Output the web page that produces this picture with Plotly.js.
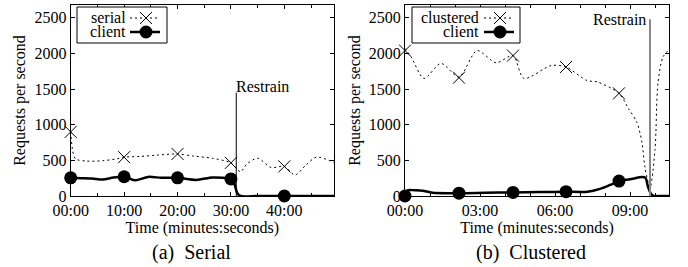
<!DOCTYPE html>
<html><head><meta charset="utf-8">
<script src="https://cdn.plot.ly/plotly-3.0.1.min.js"></script>
<style>html,body{margin:0;padding:0;background:#fff}#chart{width:688px;height:267px}</style>
</head><body><div id="chart"></div><script>
// ---- Panel (a) Serial : time in minutes ----
const serialT = [0, 0.4, 0.9, 3, 6, 8.5, 10, 13, 16.5, 20, 23, 26.5, 30, 31, 31.8, 33, 35, 37.5, 40, 42, 44, 46, 49.3];
const serialV = [900, 620, 520, 490, 495, 520, 545, 555, 575, 590, 560, 530, 465, 390, 340, 450, 530, 400, 415, 295, 430, 545, 470];
const serialMarkT = [0, 10, 20, 30, 40];
const serialMarkV = [900, 545, 590, 465, 415];
const clientAT = [0, 2, 4, 6, 8, 10, 12, 14.5, 17, 20, 23.5, 26.5, 28.5, 30, 30.6, 31.2, 31.8, 35, 40, 45, 49.3];
const clientAV = [255, 250, 245, 230, 260, 270, 220, 268, 255, 255, 225, 260, 255, 240, 180, 40, 0, 0, 0, 0, 0];
const clientAMarkT = [0, 10, 20, 30, 40];
const clientAMarkV = [255, 270, 255, 240, 0];

// ---- Panel (b) Clustered : time in minutes ----
const clusT = [0, 0.25, 0.76, 1.44, 2.16, 2.88, 3.64, 4.32, 4.76, 5.84, 6.44, 7.28, 7.7, 8.56, 8.95, 9.28, 9.48, 9.6, 9.8, 10.0, 10.12, 10.32, 10.56];
const clusV = [2070, 1950, 1650, 1860, 1670, 2040, 1870, 1970, 1650, 1830, 1810, 1620, 1600, 1440, 1220, 1030, 745, 400, 120, 650, 1590, 1950, 2050];
const clusMarkT = [0, 2.16, 4.32, 6.44, 8.56];
const clusMarkV = [2040, 1660, 1970, 1810, 1440];
const clientBT = [0, 0.1, 0.4, 0.7, 1.1, 2.16, 3.2, 4.32, 5.4, 6.44, 7.3, 7.8, 8.2, 8.56, 9.0, 9.5, 9.62, 9.72, 9.85, 9.95, 10.2, 10.56];
const clientBV = [0, 80, 80, 75, 45, 40, 45, 50, 55, 60, 60, 100, 155, 210, 235, 265, 255, 130, 25, 0, 0, 0];
const clientBMarkT = [0, 2.16, 4.32, 6.44, 8.56];
const clientBMarkV = [0, 40, 50, 60, 210];

// ---- ticks / labels ----
const xTickValsA = [0, 10, 20, 30, 40];
const xTickTextA = ['00:00', '10:00', '20:00', '30:00', '40:00'];
const xTickValsB = [0, 3, 6, 9];
const xTickTextB = ['00:00', '03:00', '06:00', '09:00'];
const yTickVals = [0, 500, 1000, 1500, 2000, 2500];
const restrainT = [31.0, 9.8];
const restrainTop = [1450, 2480];
const seriesNames = [['serial', 'client'], ['clustered', 'client']];
const captions = ['(a)  Serial', '(b)  Clustered'];

const FONT = '"Liberation Serif", "Times New Roman", "DejaVu Serif", serif';
const W = 688, H = 267;
const px = p => p / W, py = p => 1 - p / H;

function lineTrace(x, y, xa, ya, dotted) {
  return {x, y, xaxis: xa, yaxis: ya, type: 'scatter', mode: 'lines', hoverinfo: 'skip',
    line: dotted ? {color: '#000', width: 1, dash: '2px,3px', shape: 'spline', smoothing: 0.8}
                 : {color: '#000', width: 2.5, shape: 'spline', smoothing: 0.8}};
}
function markTrace(x, y, xa, ya, cross) {
  return {x, y, xaxis: xa, yaxis: ya, type: 'scatter', mode: 'markers', hoverinfo: 'skip', cliponaxis: false,
    marker: cross ? {symbol: 'x-thin-open', size: 12, color: '#000', line: {color: '#000', width: 1}}
                  : {symbol: 'circle', size: 13, color: '#000'}};
}

const data = [
  lineTrace(serialT, serialV, 'x', 'y', true),
  lineTrace(clientAT, clientAV, 'x', 'y', false),
  markTrace(serialMarkT, serialMarkV, 'x', 'y', true),
  markTrace(clientAMarkT, clientAMarkV, 'x', 'y', false),
  lineTrace(clusT, clusV, 'x2', 'y2', true),
  lineTrace(clientBT, clientBV, 'x2', 'y2', false),
  markTrace(clusMarkT, clusMarkV, 'x2', 'y2', true),
  markTrace(clientBMarkT, clientBMarkV, 'x2', 'y2', false),
];

function xaxis(domain, range, vals, text, minorD, anchor) {
  return {domain, range, anchor, tickmode: 'array', tickvals: vals, ticktext: text,
    ticks: 'inside', ticklen: 4, tickwidth: 1, tickcolor: '#000',
    minor: {tickmode: 'linear', tick0: 0, dtick: minorD, ticks: 'inside', ticklen: 3, tickcolor: '#000', showgrid: false},
    showline: true, linecolor: '#000', linewidth: 1, mirror: 'allticks', showgrid: false, zeroline: false,
    tickfont: {family: FONT, size: 16, color: '#000'},
    title: {text: 'Time (minutes:seconds)', font: {family: FONT, size: 16, color: '#000'}, standoff: 0}};
}
function yaxis(anchor) {
  return {domain: [py(196), py(5)], range: [0, 2680], anchor, tickmode: 'array', tickvals: yTickVals,
    ticks: 'inside', ticklen: 4, tickwidth: 1, tickcolor: '#000',
    showline: true, linecolor: '#000', linewidth: 1, mirror: 'allticks', showgrid: false, zeroline: false,
    tickfont: {family: FONT, size: 16, color: '#000'},
    title: {text: 'Requests per second', font: {family: FONT, size: 16, color: '#000'}, standoff: 4}};
}

const shapes = [], annotations = [];
// Restrain markers
shapes.push({type: 'line', xref: 'x', yref: 'y', x0: restrainT[0], x1: restrainT[0], y0: 0, y1: restrainTop[0], line: {color: '#000', width: 1}});
annotations.push({xref: 'x', yref: 'y', x: restrainT[0], y: restrainTop[0], xanchor: 'left', yanchor: 'middle', yshift: 6, xshift: -2,
  text: 'Restrain', showarrow: false, font: {family: FONT, size: 16, color: '#000'}});
shapes.push({type: 'line', xref: 'x2', yref: 'y2', x0: restrainT[1], x1: restrainT[1], y0: 0, y1: restrainTop[1], line: {color: '#888', width: 2}});
annotations.push({xref: 'x2', yref: 'y2', x: restrainT[1], y: restrainTop[1], xanchor: 'right', yanchor: 'middle', xshift: -2, yshift: 0,
  text: 'Restrain', showarrow: false, font: {family: FONT, size: 16, color: '#000'}});

// Legends (gnuplot style: label then sample)
function legend(box, textRight, s0, s1, mx, names) {
  shapes.push({type: 'rect', xref: 'paper', yref: 'paper', x0: px(box[0]), x1: px(box[2]), y0: py(box[3]), y1: py(box[1]),
    line: {color: '#000', width: 1}, fillcolor: '#fff', layer: 'above'});
  const rows = [18, 32];
  rows.forEach((ry, i) => {
    annotations.push({xref: 'paper', yref: 'paper', x: px(textRight), y: py(ry), xanchor: 'right', yanchor: 'middle',
      height: 13, borderpad: 0, valign: 'middle',
      text: names[i], showarrow: false, font: {family: FONT, size: 16, color: '#000'}});
  });
  shapes.push({type: 'line', xref: 'paper', yref: 'paper', x0: px(s0), x1: px(s1), y0: py(18), y1: py(18), line: {color: '#000', width: 1, dash: '2px,3px'}, layer: 'above'});
  shapes.push({type: 'line', xref: 'paper', yref: 'paper', x0: px(mx - 6), x1: px(mx + 6), y0: py(12), y1: py(24), line: {color: '#000', width: 1}, layer: 'above'});
  shapes.push({type: 'line', xref: 'paper', yref: 'paper', x0: px(mx - 6), x1: px(mx + 6), y0: py(24), y1: py(12), line: {color: '#000', width: 1}, layer: 'above'});
  shapes.push({type: 'line', xref: 'paper', yref: 'paper', x0: px(s0), x1: px(s1), y0: py(32), y1: py(32), line: {color: '#000', width: 2.5}, layer: 'above'});
  shapes.push({type: 'circle', xref: 'paper', yref: 'paper', x0: px(mx - 6.5), x1: px(mx + 6.5), y0: py(38.5), y1: py(25.5), line: {color: '#000', width: 0}, fillcolor: '#000', layer: 'above'});
}
legend([77, 7, 167, 43], 127, 130, 160, 146, seriesNames[0]);
legend([412, 7, 520, 43], 480, 484, 514, 500, seriesNames[1]);

// captions
annotations.push({xref: 'paper', yref: 'paper', x: px(191), y: py(252), xanchor: 'center', yanchor: 'middle', text: captions[0], showarrow: false, font: {family: FONT, size: 20, color: '#000'}});
annotations.push({xref: 'paper', yref: 'paper', x: px(531), y: py(252), xanchor: 'center', yanchor: 'middle', text: captions[1], showarrow: false, font: {family: FONT, size: 20, color: '#000'}});

const layout = {
  width: W, height: H, margin: {l: 0, r: 0, t: 0, b: 0}, showlegend: false,
  paper_bgcolor: '#fff', plot_bgcolor: '#fff', font: {family: FONT, color: '#000'},
  xaxis: xaxis([px(70.7), px(334)], [0, 49.3], xTickValsA, xTickTextA, 5, 'y'),
  yaxis: yaxis('x'),
  xaxis2: xaxis([px(405), px(669)], [0, 10.56], xTickValsB, xTickTextB, 1, 'y2'),
  yaxis2: yaxis('x2'),
  shapes, annotations
};
Plotly.newPlot('chart', data, layout, {staticPlot: true, displayModeBar: false});
</script></body></html>
